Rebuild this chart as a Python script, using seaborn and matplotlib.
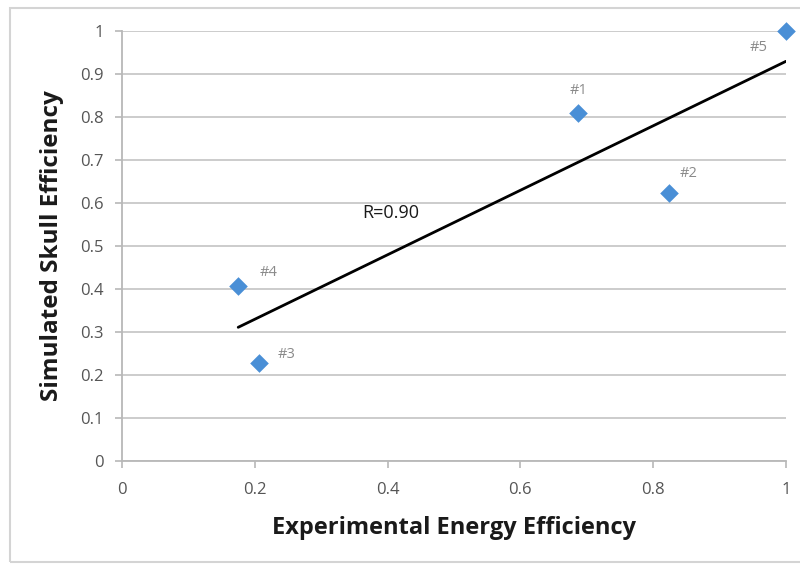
import numpy as np
import pandas as pd
import matplotlib
matplotlib.use("Agg")
import matplotlib.pyplot as plt
from matplotlib.patches import Rectangle
import seaborn as sns

labels = ["#1", "#2", "#3", "#4", "#5"]
experimental = [0.687, 0.824, 0.206, 0.175, 1.0]
simulated = [0.809, 0.623, 0.228, 0.407, 1.0]
label_offsets = [(0, 16), (14, 14), (20, 6), (22, 10), (-20, -12)]
r_text = "R=0.90"
xticks = [0, 0.2, 0.4, 0.6, 0.8, 1.0]
xtick_labels = ["0", "0.2", "0.4", "0.6", "0.8", "1"]
yticks = [0, 0.1, 0.2, 0.3, 0.4, 0.5, 0.6, 0.7, 0.8, 0.9, 1.0]
ytick_labels = ["0", "0.1", "0.2", "0.3", "0.4", "0.5", "0.6", "0.7", "0.8", "0.9", "1"]

df = pd.DataFrame({"label": labels, "x": experimental, "y": simulated})

sns.set_theme(style="white")
plt.rcParams['font.family'] = ['Open Sans', 'DejaVu Sans']

fig = plt.figure(figsize=(8, 5.64), dpi=100)
ax = fig.add_axes([122/800, 1 - 461/564, (786-122)/800, (461-31)/564])

# outer frame
fig.patches.append(Rectangle((10/800, 2/564), 1.0, 554/564, transform=fig.transFigure,
                             fill=False, edgecolor="#d4d4d4", linewidth=1.5, zorder=0))

sns.regplot(data=df, x="x", y="y", ax=ax, ci=None, truncate=True, scatter=False,
            line_kws=dict(color="black", linewidth=2, zorder=3))
sns.scatterplot(data=df, x="x", y="y", ax=ax, marker="D", s=90, color="#4a8fd6",
                edgecolor="#4a8fd6", linewidth=0, zorder=4, clip_on=False)

for lab, xv, yv, (dx, dy) in zip(labels, experimental, simulated, label_offsets):
    ax.annotate(lab, (xv, yv), xytext=(dx, dy), textcoords="offset points",
                ha="center", va="center", fontsize=10.5, color="#8a8a8a")

ax.text(0.405, 0.577, r_text, ha="center", va="center", fontsize=13, color="#1a1a1a")

ax.set_xlim(0, 1)
ax.set_ylim(0, 1)
ax.set_xticks(xticks)
ax.set_xticklabels(xtick_labels)
ax.set_yticks(yticks)
ax.set_yticklabels(ytick_labels)
ax.yaxis.grid(True, color="#c8c8c8", linewidth=1.3)
ax.xaxis.grid(False)
ax.set_axisbelow(True)
for s in ["top", "right"]:
    ax.spines[s].set_visible(False)
for s in ["left", "bottom"]:
    ax.spines[s].set_color("#b8b8b8")
    ax.spines[s].set_linewidth(1.3)
ax.tick_params(axis="both", which="major", length=5, width=1.2, color="#b8b8b8",
               labelsize=12, labelcolor="#555555", direction="out", pad=8)
ax.tick_params(axis="x", bottom=True, pad=10)
ax.tick_params(axis="y", left=True)

ax.set_xlabel("Experimental Energy Efficiency", fontsize=17, fontweight="bold",
              color="#1a1a1a", labelpad=13)
ax.set_ylabel("Simulated Skull Efficiency", fontsize=17.5, fontweight="bold",
              color="#1a1a1a", labelpad=12)

fig.savefig("out.png", dpi=100)
